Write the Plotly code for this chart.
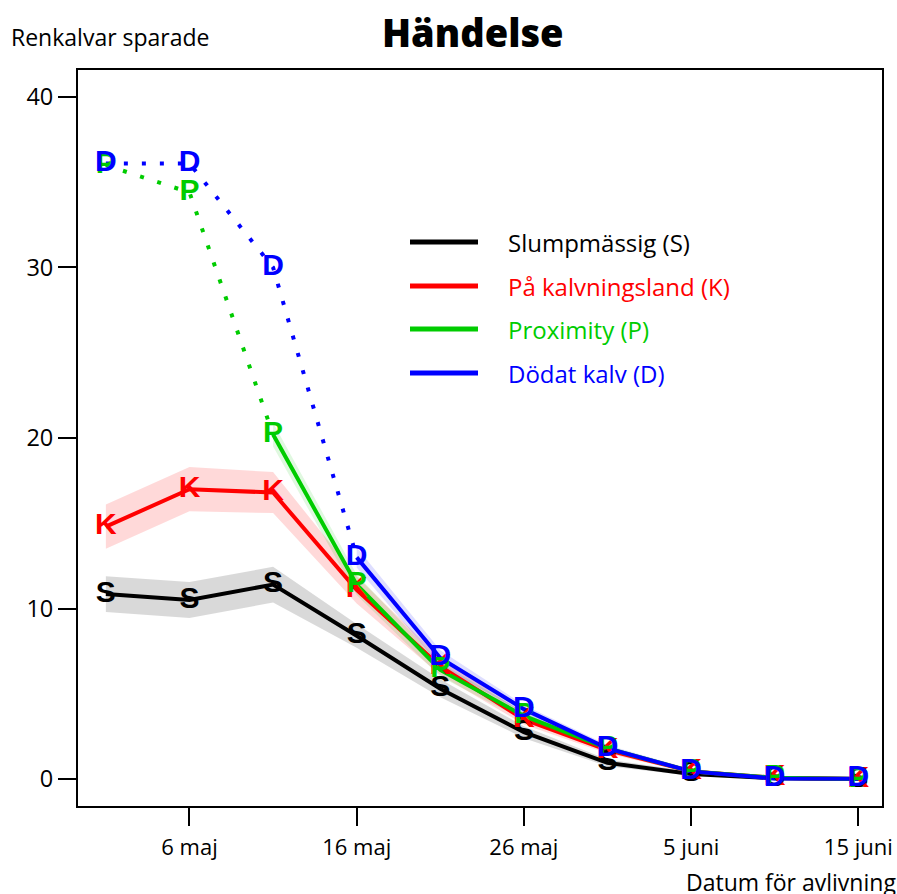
import plotly.graph_objects as go

# ---------------- data ----------------
dates = ["2021-05-01", "2021-05-06", "2021-05-11", "2021-05-16", "2021-05-21",
         "2021-05-26", "2021-05-31", "2021-06-05", "2021-06-10", "2021-06-15"]

S = [10.85, 10.5, 11.4, 8.4, 5.3, 2.75, 0.95, 0.3, 0.05, 0.0]
S_lo = [9.8, 9.45, 10.35, 7.7, 4.8, 2.4, 0.75, 0.2, 0.0, 0.0]
S_hi = [11.9, 11.55, 12.45, 9.1, 5.85, 3.1, 1.15, 0.45, 0.1, 0.03]

K = [14.8, 17.0, 16.8, 11.1, 6.6, 3.5, 1.7, 0.45, 0.08, 0.0]
K_lo = [13.5, 15.7, 15.6, 10.3, 6.1, 3.2, 1.5, 0.35, 0.03, 0.0]
K_hi = [16.1, 18.3, 18.0, 11.9, 7.1, 3.85, 1.9, 0.6, 0.14, 0.03]

P = [36.0, 34.4, 20.2, 11.4, 6.4, 3.7, 1.8, 0.45, 0.07, 0.0]
P_lo = [None, None, 19.5, 10.8, 6.0, 3.45, 1.65, 0.38, 0.04, 0.0]
P_hi = [None, None, 20.9, 12.0, 6.8, 3.95, 1.95, 0.55, 0.12, 0.03]

D = [36.1, 36.1, 30.0, 13.0, 7.1, 4.1, 1.8, 0.45, 0.03, 0.02]
D_lo = [None, None, None, 12.4, 6.65, 3.85, 1.62, 0.38, 0.0, 0.0]
D_hi = [None, None, None, 13.6, 7.55, 4.35, 2.0, 0.58, 0.08, 0.04]

letters = ["S", "K", "P", "D"]
names = ["Slumpmässig (S)", "På kalvningsland (K)", "Proximity (P)", "Dödat kalv (D)"]
colors = ["#000000", "#ff0000", "#00cc00", "#0000ff"]
bands = ["rgba(0,0,0,0.15)", "rgba(255,0,0,0.15)", "rgba(0,200,0,0.12)", "rgba(0,0,255,0.13)"]
dotted_until = [0, 0, 2, 3]   # index where the solid part starts

tick_vals = ["2021-05-06", "2021-05-16", "2021-05-26", "2021-06-05", "2021-06-15"]
tick_text = ["6 maj", "16 maj", "26 maj", "5 juni", "15 juni"]
y_ticks = [0, 10, 20, 30, 40]

series = [S, K, P, D]
los = [S_lo, K_lo, P_lo, D_lo]
his = [S_hi, K_hi, P_hi, D_hi]

FONT = "Open Sans"
FS = 22
fig = go.Figure()

# bands
for vals, lo, hi, bc, k in zip(series, los, his, bands, dotted_until):
    xs = dates[k:]
    fig.add_trace(go.Scatter(x=xs, y=lo[k:], mode="lines", line=dict(width=0),
                             showlegend=False, hoverinfo="skip"))
    fig.add_trace(go.Scatter(x=xs, y=hi[k:], mode="lines", line=dict(width=0),
                             fill="tonexty", fillcolor=bc, showlegend=False, hoverinfo="skip"))

# lines
for vals, col, k in zip(series, colors, dotted_until):
    if k > 0:
        fig.add_trace(go.Scatter(x=dates[:k + 1], y=vals[:k + 1], mode="lines",
                                 line=dict(color=col, width=4, dash="4px,14px"),
                                 showlegend=False, hoverinfo="skip"))
    fig.add_trace(go.Scatter(x=dates[k:], y=vals[k:], mode="lines",
                             line=dict(color=col, width=4),
                             showlegend=False, hoverinfo="skip"))

# letters
for vals, col, let in zip(series, colors, letters):
    fig.add_trace(go.Scatter(x=dates, y=vals, mode="text", text=[let] * len(vals),
                             textposition="middle center",
                             textfont=dict(family="Liberation Sans", size=30, color=col, weight="bold"),
                             showlegend=False, hoverinfo="skip"))

FW, FH = 897, 894
L, R, T, B = 78, 882, 70, 806
W, H = R - L, B - T


def px(x):
    return (x - L) / W


def py(y):
    return (B - y) / H


legend_y = [242, 286, 329, 373]
shapes = []
annotations = []
for name, col, ly in zip(names, colors, legend_y):
    shapes.append(dict(type="line", xref="paper", yref="paper",
                       x0=px(410), x1=px(478), y0=py(ly), y1=py(ly),
                       line=dict(color=col, width=5)))
    annotations.append(dict(text=name, xref="paper", yref="paper", x=px(506), y=py(ly),
                            xanchor="left", yanchor="middle", showarrow=False,
                            font=dict(family=FONT, size=24, color=col)))

annotations.append(dict(text="Renkalvar sparade", xref="paper", yref="paper",
                        x=px(9), y=py(37), xanchor="left", yanchor="middle",
                        showarrow=False, font=dict(family=FONT, size=23, color="black")))
annotations.append(dict(text="Datum för avlivning", xref="paper", yref="paper",
                        x=px(898), y=py(882), xanchor="right", yanchor="middle",
                        showarrow=False, font=dict(family=FONT, size=23, color="black")))
annotations.append(dict(text="Händelse", xref="paper", yref="paper",
                        x=px(473), y=py(32), xanchor="center", yanchor="middle",
                        showarrow=False, font=dict(family=FONT, size=38, color="black", weight=800)))

fig.update_layout(
    width=FW, height=FH,
    margin=dict(l=L, r=FW - R, t=T, b=FH - B),
    plot_bgcolor="white", paper_bgcolor="white",
    showlegend=False,
    shapes=shapes, annotations=annotations,
    font=dict(family=FONT, size=FS, color="black"),
)
fig.update_xaxes(type="date", range=["2021-04-29 08:00", "2021-06-16 10:00"],
                 tickvals=tick_vals, ticktext=tick_text, automargin=False,
                 ticks="outside", ticklen=18, tickwidth=2, tickcolor="black",
                 showline=True, linecolor="black", linewidth=2, mirror=True,
                 showgrid=False, zeroline=False, ticklabelstandoff=3,
                 tickfont=dict(family=FONT, size=FS))
fig.update_yaxes(range=[-1.58, 41.58], tickvals=y_ticks, automargin=False,
                 ticks="outside", ticklen=18, tickwidth=2, tickcolor="black",
                 showline=True, linecolor="black", linewidth=2, mirror=True,
                 showgrid=False, zeroline=False, ticklabelstandoff=0,
                 tickfont=dict(family=FONT, size=23.5))

fig.write_html("out.html", config={"displayModeBar": False},
               post_script="document.body.style.margin='0';document.body.style.overflow='hidden';")
